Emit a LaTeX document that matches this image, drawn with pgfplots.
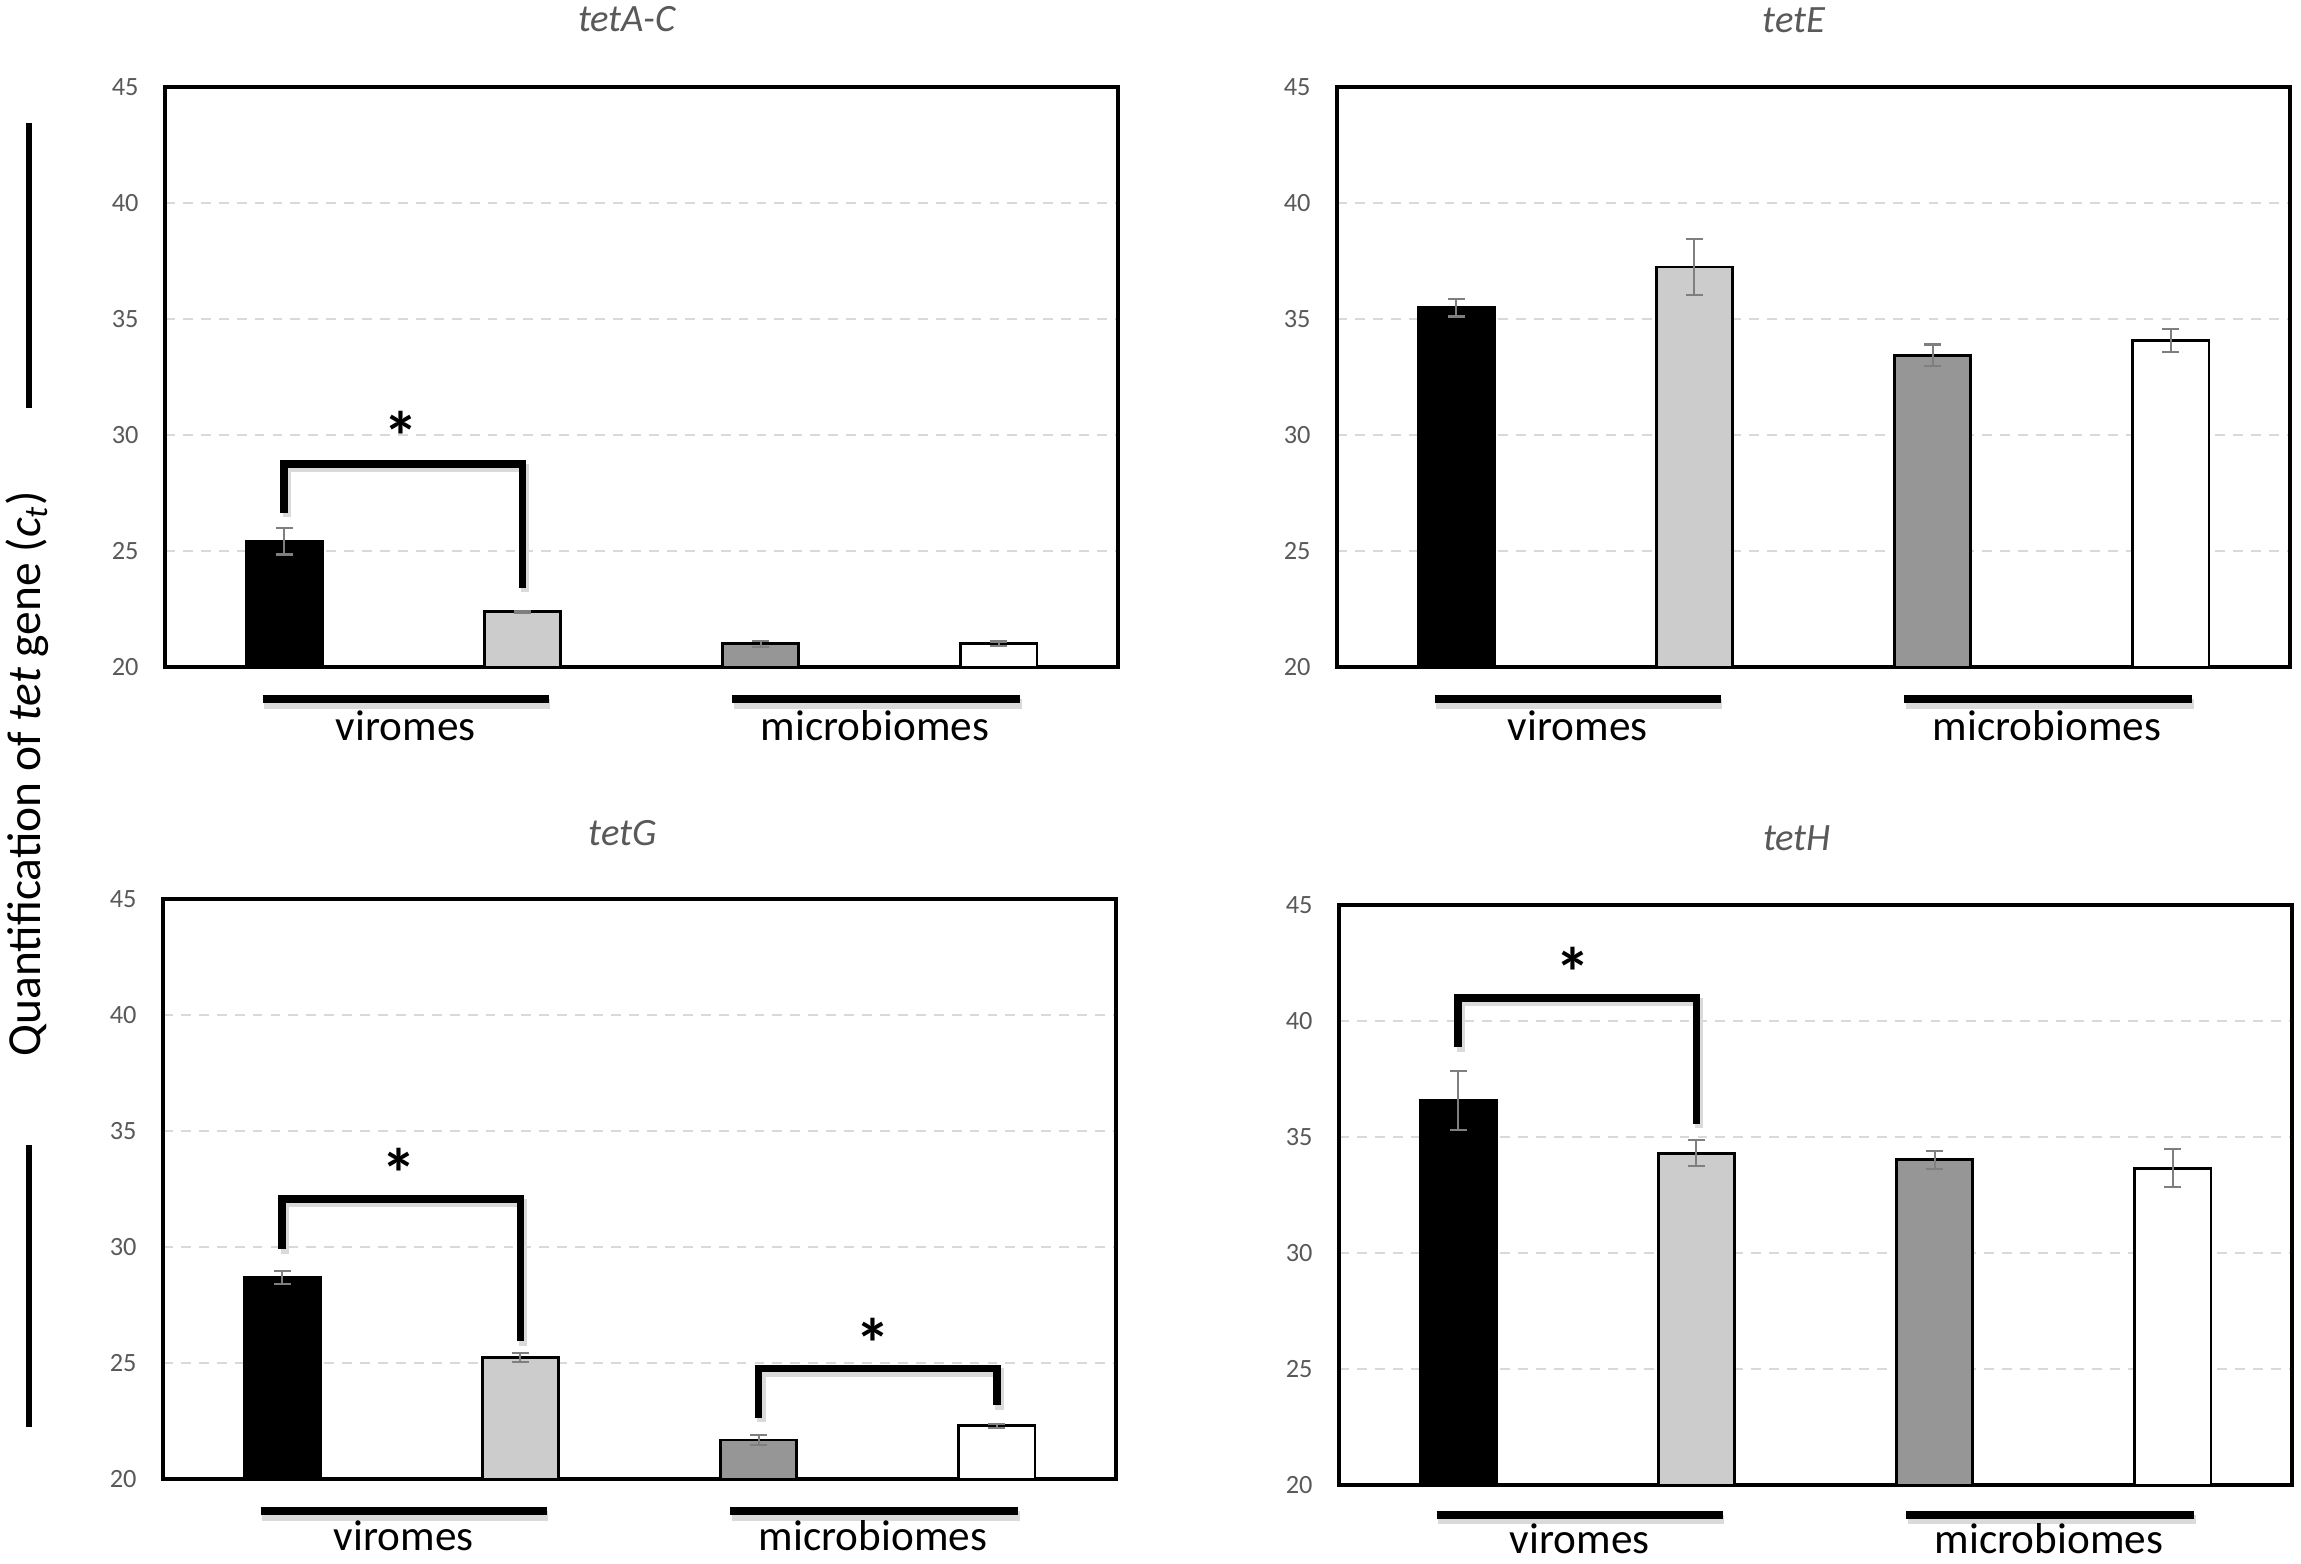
\documentclass[border=0pt]{standalone}
\usepackage{fontspec}
\setmainfont{Carlito}
\usepackage{pgfplots}
\pgfplotsset{compat=1.18}

\definecolor{barlight}{HTML}{CCCCCC}
\definecolor{bardark}{HTML}{969696}
\definecolor{gridgray}{HTML}{D9D9D9}
\definecolor{tickgray}{HTML}{595959}
\definecolor{errgray}{HTML}{7F7F7F}
\definecolor{shadowc}{HTML}{DADADA}

\pgfplotsset{
  panel/.style={
    scale only axis, width=9.53cm, height=5.80cm, anchor=north west,
    xmin=-0.5, xmax=3.5, ymin=20, ymax=45,
    ytick={20,25,...,45}, xtick=\empty,
    ymajorgrids,
    grid style={color=gridgray, line width=0.45pt, dash pattern=on 2.8pt off 2.3pt},
    axis line style={line width=1.4pt},
    tick style={draw=none},
    yticklabel style={font=\fontsize{7.5}{9}\selectfont, text=tickgray, xshift=-4pt},
    /pgf/number format/assume math mode=true,
    ybar, bar width=0.32, bar shift=0pt,
    clip mode=individual,
    error bars/y dir=both, error bars/y explicit,
    error bars/error bar style={line width=0.6pt, draw=errgray},
    error bars/error mark options={rotate=90, mark size=2.4pt, line width=0.6pt, draw=errgray},
  },
  bk/.style={fill=black, draw=black, line width=0.8pt},
  lg/.style={fill=barlight, draw=black, line width=0.8pt},
  dg/.style={fill=bardark, draw=black, line width=0.8pt},
  wh/.style={fill=white, draw=black, line width=0.8pt},
}

% significance bracket: x1, x2, top, left leg end, right leg end
\newcommand{\sigbracket}[5]{%
  \draw[line width=2.4pt, shadowc, xshift=0.8pt, yshift=-1.2pt] (axis cs:#1,#4) |- (axis cs:#2,#3) -- (axis cs:#2,#5);
  \draw[line width=2.1pt] (axis cs:#1,#4) |- (axis cs:#2,#3) -- (axis cs:#2,#5);
}
\newcommand{\sigstar}[2]{%
  \node[anchor=north, inner sep=0pt, font=\fontsize{20}{20}\selectfont\bfseries] at (axis cs:#1,#2) {*};
}
% group bars and names: #1 = height of the bars, #2 = baseline of the names
\newcommand{\groups}[2]{%
  \draw[line width=2.6pt, shadowc, xshift=0.5pt, yshift=-1.4pt] (axis cs:-0.09,#1) -- (axis cs:1.11,#1);
  \draw[line width=2.6pt, shadowc, xshift=0.5pt, yshift=-1.4pt] (axis cs:1.88,#1) -- (axis cs:3.09,#1);
  \draw[line width=2.3pt] (axis cs:-0.09,#1) -- (axis cs:1.11,#1);
  \draw[line width=2.3pt] (axis cs:1.88,#1) -- (axis cs:3.09,#1);
  \node[anchor=base, inner sep=1pt, font=\fontsize{12.3}{14}\selectfont] at (axis cs:0.51,#2) {viromes};
  \node[anchor=base, inner sep=1pt, font=\fontsize{12.3}{14}\selectfont] at (axis cs:2.48,#2) {microbiomes};
}

\begin{document}
\begin{tikzpicture}
\useasboundingbox (0,0) rectangle (23.01cm,15.63cm);

% tetA-C
\begin{axis}[panel, at={(1.65cm,14.76cm)}]
\addplot[bk] coordinates {(0,25.43) +- (0,0.58)};
\addplot[lg] coordinates {(1,22.38) +- (0,0.05)};
\addplot[dg] coordinates {(2,21.00) +- (0,0.12)};
\addplot[wh] coordinates {(3,21.00) +- (0,0.10)};
\sigbracket{0}{1}{28.75}{26.64}{23.40}
\sigstar{0.49}{31.05}
\groups{18.62}{16.85}
\end{axis}

% tetE
\begin{axis}[panel, at={(13.37cm,14.76cm)}]
\addplot[bk] coordinates {(0,35.48) +- (0,0.37)};
\addplot[lg] coordinates {(1,37.24) +- (0,1.21)};
\addplot[dg] coordinates {(2,33.44) +- (0,0.46)};
\addplot[wh] coordinates {(3,34.07) +- (0,0.51)};
\groups{18.62}{16.85}
\end{axis}

% tetG
\begin{axis}[panel, at={(1.63cm,6.64cm)}]
\addplot[bk] coordinates {(0,28.69) +- (0,0.27)};
\addplot[lg] coordinates {(1,25.24) +- (0,0.20)};
\addplot[dg] coordinates {(2,21.68) +- (0,0.20)};
\addplot[wh] coordinates {(3,22.30) +- (0,0.09)};
\sigbracket{0}{1}{32.07}{29.90}{25.93}
\sigstar{0.49}{34.30}
\sigbracket{2}{3}{24.77}{22.63}{23.17}
\sigstar{2.48}{26.95}
\groups{18.62}{16.90}
\end{axis}

% tetH
\begin{axis}[panel, at={(13.39cm,6.58cm)}]
\addplot[bk] coordinates {(0,36.58) +- (0,1.28)};
\addplot[lg] coordinates {(1,34.30) +- (0,0.56)};
\addplot[dg] coordinates {(2,34.02) +- (0,0.38)};
\addplot[wh] coordinates {(3,33.66) +- (0,0.83)};
\sigbracket{0}{1}{41.00}{38.86}{35.57}
\sigstar{0.48}{43.20}
\groups{18.72}{17.06}
\end{axis}

\begin{scope}[x=0.01cm, y=-0.01cm, yshift=15.63cm]
  \node[anchor=base, font=\fontsize{11}{13}\selectfont\itshape, text=tickgray] at (627,32) {tetA-C};
  \node[anchor=base, font=\fontsize{11}{13}\selectfont\itshape, text=tickgray] at (1795,33) {tetE};
  \node[anchor=base, font=\fontsize{11}{13}\selectfont\itshape, text=tickgray] at (623,846) {tetG};
  \node[anchor=base, font=\fontsize{11}{13}\selectfont\itshape, text=tickgray] at (1798,851) {tetH};
  \node[rotate=90, font=\fontsize{13.5}{16}\selectfont] at (27,774)
    {Quantification of \textit{tet} gene (\textit{c}\textsubscript{\textit{t}})};
  \draw[line width=1.5pt] (29,123) -- (29,408);
  \draw[line width=1.5pt] (29,1146) -- (29,1428);
\end{scope}
\end{tikzpicture}
\end{document}
